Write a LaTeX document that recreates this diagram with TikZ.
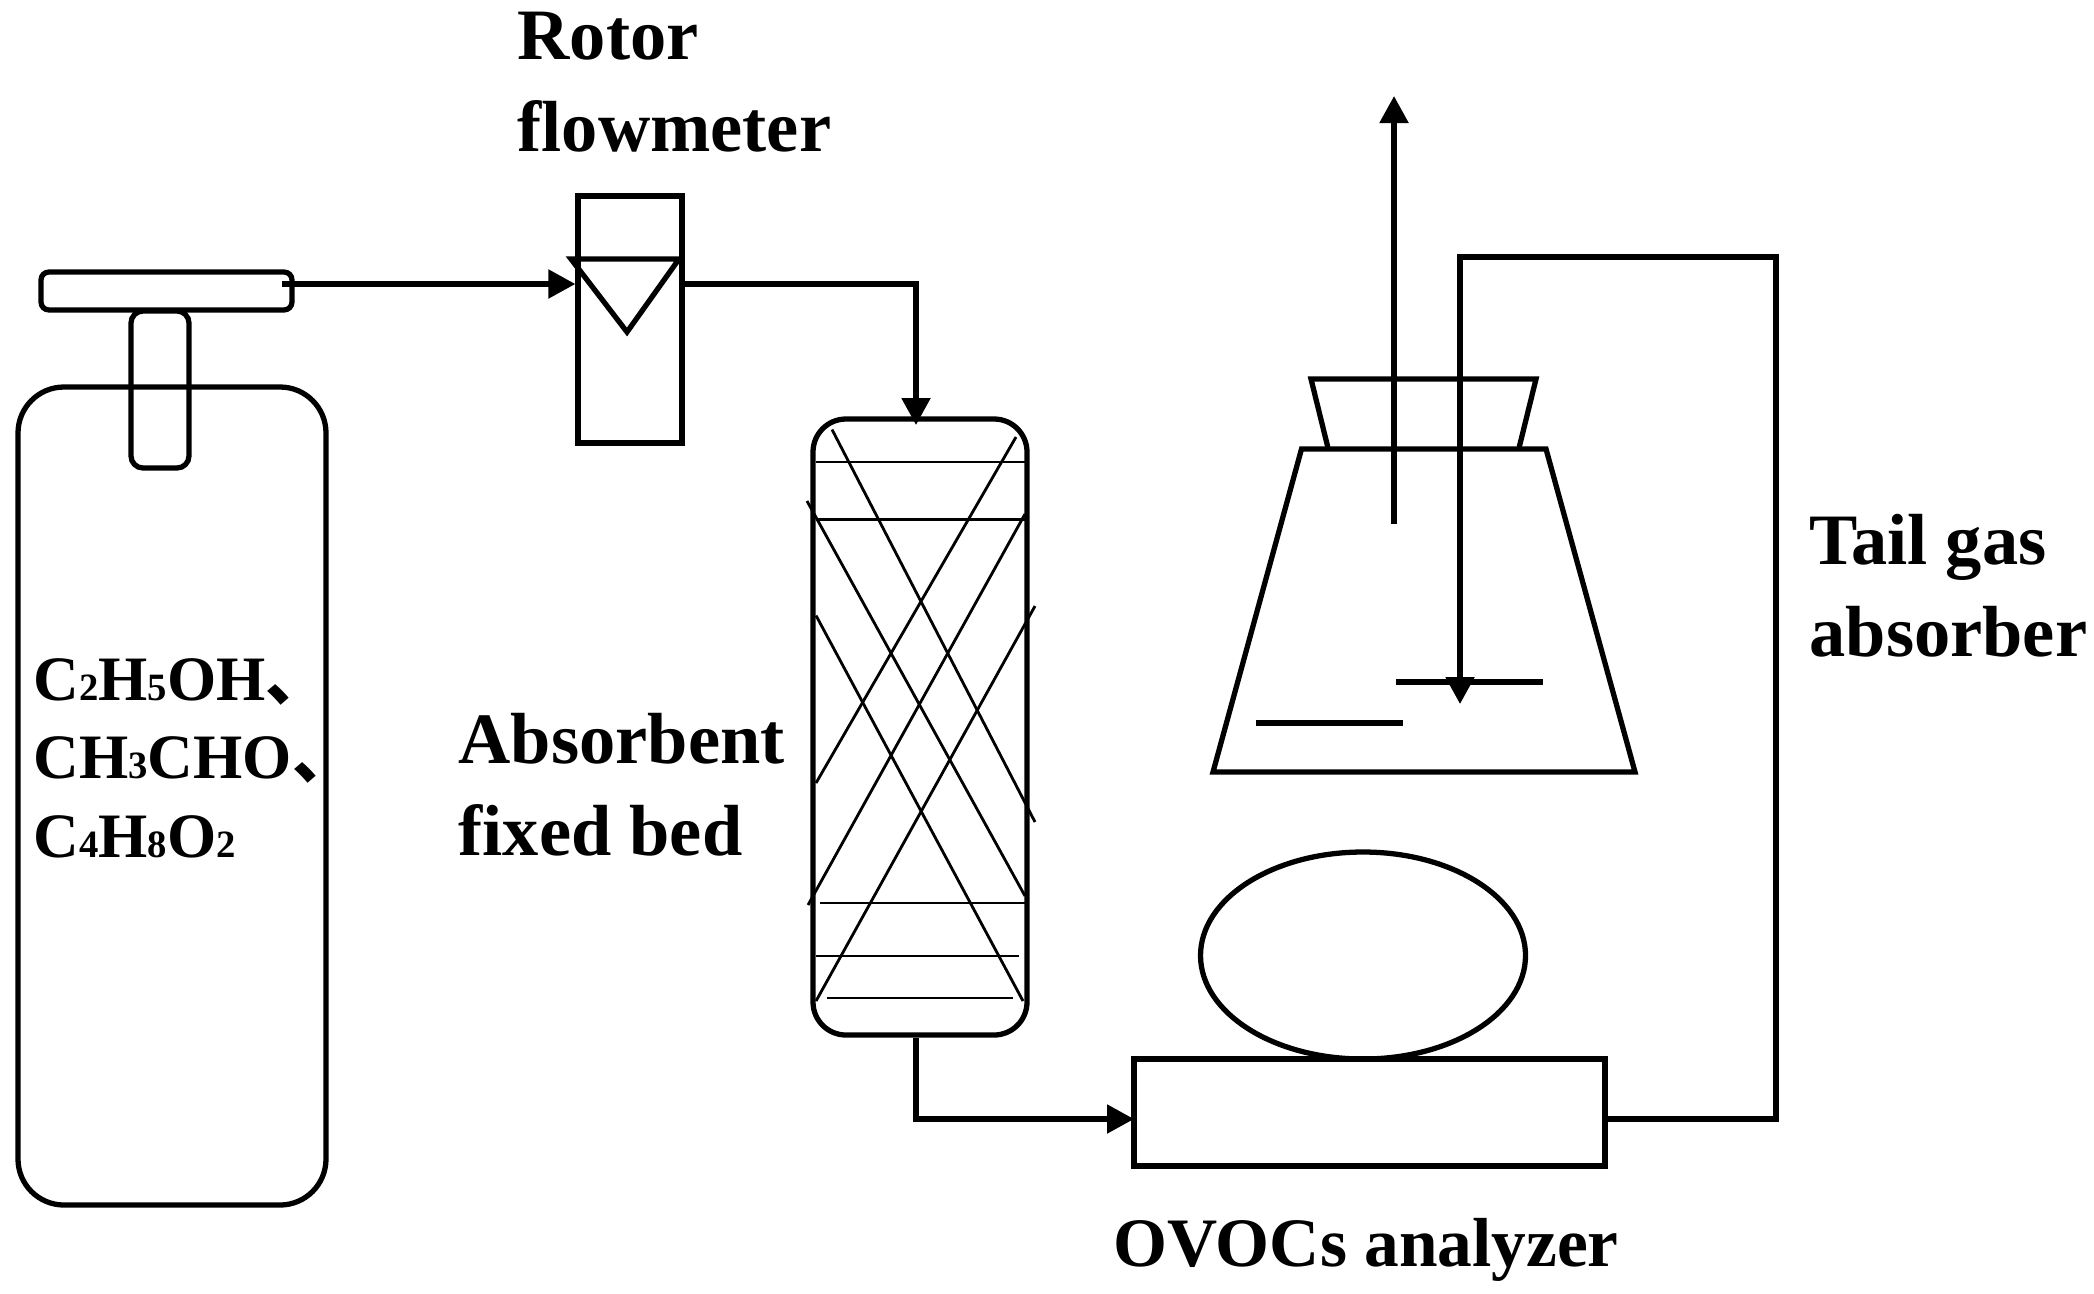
\documentclass[tikz,border=0pt]{standalone}
\usepackage{fontspec}
\setmainfont{Liberation Serif}
\newfontfamily\cjk{Noto Sans CJK SC}
\usetikzlibrary{arrows.meta, positioning, shapes.geometric, calc}
\newcommand{\dg}[1]{{\fontsize{11}{11}\selectfont #1}}
\newcommand{\dun}{{\cjk\bfseries 、}}

\begin{document}
\begin{tikzpicture}[>={Stealth[length=2.7mm, width=2.8mm, inset=0pt]},
    part/.style={rectangle, draw=black, line width=1.5pt, inner sep=0pt},
    roundpart/.style={part, rounded corners=#1},
    outline/.style={draw=black, line width=1.5pt},
    pipe/.style={line width=1.5pt, black},
    pack/.style={line width=0.8pt, black},
    label/.style={anchor=base west, inner sep=0pt, align=left,
      font=\fontsize{20.6}{25.9}\selectfont\bfseries},
    gas/.style={label, font=\fontsize{18}{22.3}\selectfont\bfseries}]

  \useasboundingbox (0,0) rectangle (20.94,-12.93);

  % gas cylinder with valve
  \node[roundpart=4.6mm, minimum width=3.08cm, minimum height=8.18cm] (bottle) at (1.72,-7.96) {};
  \node[roundpart=1.2mm, minimum width=0.58cm, minimum height=1.57cm] (stem) at (1.60,-3.895) {};
  \node[roundpart=0.8mm, minimum width=2.51cm, minimum height=0.38cm] (valve) at (1.665,-2.91) {};
  \node[gas] (gaslabel) at (0.33,-8.57) {C\dg{2}H\dg{5}OH\dun\\CH\dg{3}CHO\dun\\C\dg{4}H\dg{8}O\dg{2}};

  % rotor flowmeter
  \node[part, minimum width=1.04cm, minimum height=2.47cm] (meter) at (6.30,-3.195) {};
  \draw[outline] (5.71,-2.59) -- (6.79,-2.59) -- (6.27,-3.32) -- cycle;
  \node[label] (meterlabel) at (5.17,-1.51) {Rotor\\flowmeter};

  % absorbent column
  \node[roundpart=3.3mm, minimum width=2.14cm, minimum height=6.16cm] (column) at (9.20,-7.27) {};
  \foreach \xa/\ya/\xb/\yb in {8.16/-4.62/10.25/-4.62, 8.16/-5.195/10.25/-5.195,
      8.20/-9.03/10.25/-9.03, 8.16/-9.56/10.19/-9.56, 8.27/-9.98/10.13/-9.98,
      8.32/-4.295/10.35/-8.22, 8.07/-5.01/10.25/-8.96, 8.16/-6.155/10.23/-10.01,
      8.16/-7.83/10.16/-4.37, 8.08/-9.05/10.25/-5.14, 8.16/-10.01/10.35/-6.06}
    \draw[pack] (\xa,\ya) -- (\xb,\yb);
  \node[label] (columnlabel) at (4.58,-8.55) {Absorbent\\fixed bed};

  % analyzer
  \node[part, minimum width=4.71cm, minimum height=1.07cm] (analyzer) at (13.695,-11.125) {};
  \node[ellipse, draw=black, line width=1.5pt, inner sep=0pt, minimum width=3.25cm, minimum height=2.07cm] (dish) at (13.63,-9.555) {};
  \node[label, anchor=base, font=\fontsize{19.75}{24}\selectfont\bfseries] (analyzerlabel) at (13.66,-12.66) {OVOCs analyzer};

  % tail gas absorber
  \draw[outline] (13.015,-4.49) -- (15.46,-4.49) -- (16.35,-7.72) -- (12.13,-7.72) -- cycle;
  \draw[outline] (13.28,-4.48) -- (13.11,-3.79) -- (15.36,-3.79) -- (15.19,-4.48);
  \draw[pipe] (13.96,-6.82) -- (15.43,-6.82);
  \draw[pipe] (12.56,-7.23) -- (14.03,-7.23);
  \node[label] (flasklabel) at (18.09,-6.56) {Tail gas\\absorber};

  % connection points
  \coordinate (valveout) at (2.82,-2.84);
  \coordinate (colin) at (9.16,-4.25);
  \coordinate (anin) at (11.34,-11.19);
  \coordinate (topright) at (17.76,-2.57);
  \coordinate (tailtop) at (14.60,-2.57);
  \coordinate (tailend) at (14.60,-7.04);
  \coordinate (ventin) at (13.94,-5.24);
  \coordinate (ventout) at (13.94,-0.96);

  % pipes
  \draw[pipe, ->] (valveout) -- (valveout -| meter.west);
  \draw[pipe, ->] (meter.east |- valveout) -| (colin);
  \draw[pipe, ->] (column.south -| colin) |- (anin);
  \draw[pipe, ->] (analyzer.east |- anin) -| (topright) -- (tailtop) -- (tailend);
  \draw[pipe, ->] (ventin) -- (ventout);

\end{tikzpicture}
\end{document}
